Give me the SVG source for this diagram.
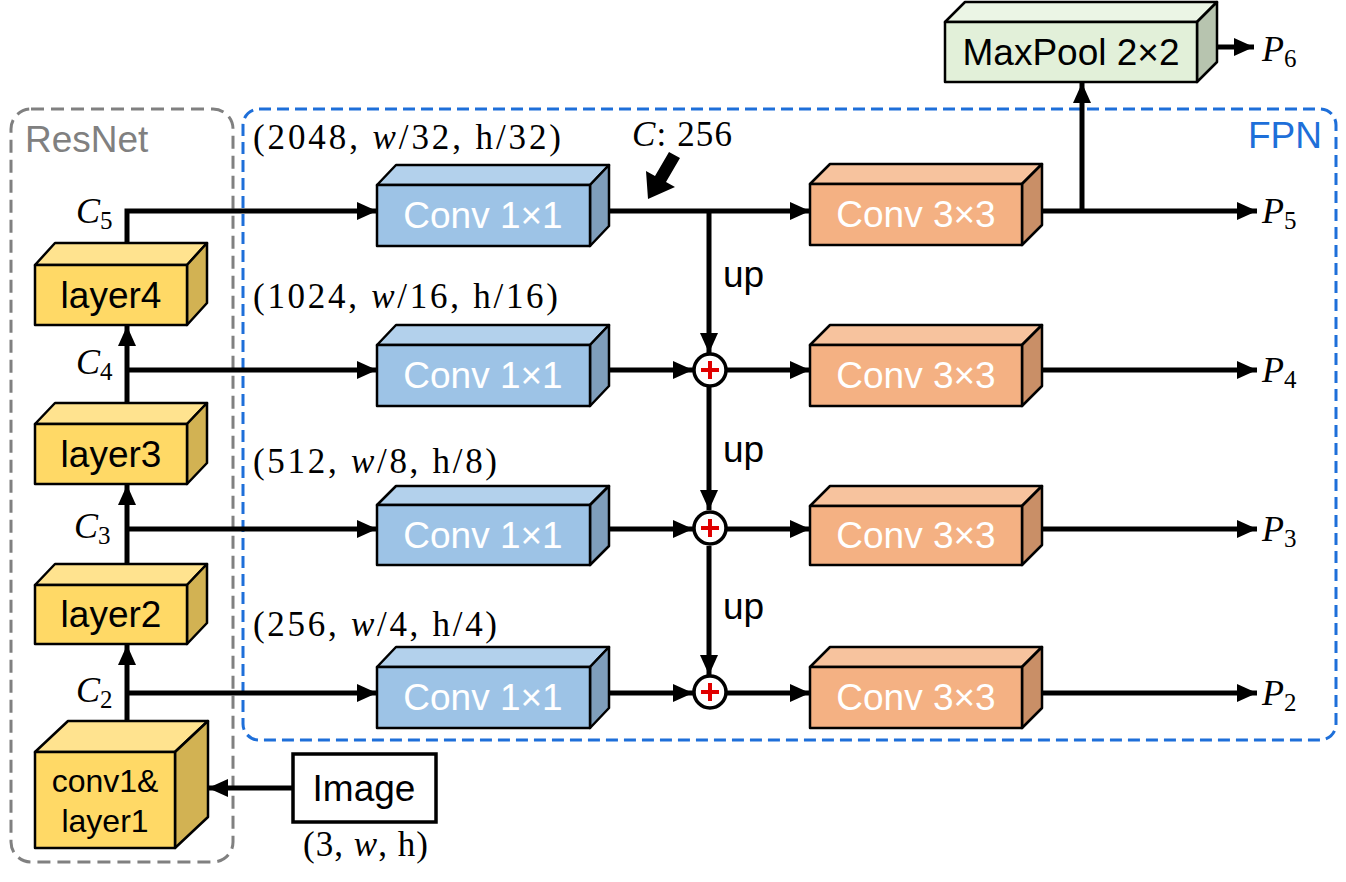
<svg xmlns="http://www.w3.org/2000/svg" width="1346" height="882" viewBox="0 0 1346 882">
<defs>
<marker id="ah" markerUnits="userSpaceOnUse" markerWidth="20" markerHeight="18" refX="20" refY="9" orient="auto">
<path d="M0,0 L20,9 L0,18 z" fill="#000"/>
</marker>
<style>
.cb{stroke:#000;stroke-width:2.5;stroke-linejoin:round}
.yf{fill:#FFD966}.yt{fill:#FFE38F}.ys{fill:#D2B253}
.bf{fill:#9DC3E6}.bt{fill:#B3D1EC}.bs{fill:#7F9EBB}
.of{fill:#F4B183}.ot{fill:#F7C39E}.os{fill:#C98F67}
.gf{fill:#E2F0D9}.gt{fill:#EBF5E5}.gs{fill:#B7C4AF}
.sans{font-family:"Liberation Sans",Arial,sans-serif;font-size:37px}
.wt{fill:#fff;text-anchor:middle}
.bk{fill:#000;text-anchor:middle}
.math{font-family:"Liberation Serif","Times New Roman",serif;font-size:35px;fill:#000}
.lbl{font-size:36px}
.it{font-style:italic}
.sub{font-size:25px}
.ln{fill:none;stroke:#000;stroke-width:5}
.ar{marker-end:url(#ah)}
</style>
</defs>
<rect width="1346" height="882" fill="#fff"/>

<!-- containers -->
<g id="resnet-group">
<rect x="11" y="109" width="222" height="753" rx="20" fill="none" stroke="#808080" stroke-width="3" stroke-dasharray="13 7"/>
<text x="25" y="152" class="sans" fill="#808080">ResNet</text>
</g>
<g id="fpn-group">
<rect x="243" y="109" width="1093" height="631" rx="16" fill="none" stroke="#1E6FD9" stroke-width="3" stroke-dasharray="12 6"/>
<text x="1322" y="148" class="sans" fill="#1E6FD9" text-anchor="end">FPN</text>
</g>

<!-- connectors -->
<g id="connectors">
<path class="ln ar" d="M127,243 V211 H377"/>
<path class="ln ar" d="M127,403 V326"/>
<path class="ln ar" d="M127,370 H377"/>
<path class="ln ar" d="M127,564 V485"/>
<path class="ln ar" d="M127,529 H377"/>
<path class="ln ar" d="M127,721 V645"/>
<path class="ln ar" d="M127,693 H377"/>
<path class="ln ar" d="M292,788 H208"/>
<path class="ln ar" d="M609,211 H810"/>
<path class="ln ar" d="M709,211 V353"/>
<path class="ln ar" d="M609,370 H693"/>
<path class="ln ar" d="M727,370 H810"/>
<path class="ln ar" d="M709,387 V510"/>
<path class="ln ar" d="M609,529 H693"/>
<path class="ln ar" d="M727,529 H810"/>
<path class="ln ar" d="M709,546 V675"/>
<path class="ln ar" d="M609,693 H693"/>
<path class="ln ar" d="M727,693 H810"/>
<path class="ln ar" d="M1042,211 H1257"/>
<path class="ln ar" d="M1042,370 H1257"/>
<path class="ln ar" d="M1042,529 H1257"/>
<path class="ln ar" d="M1042,693 H1257"/>
<path class="ln ar" d="M1082,211 V83"/>
<path class="ln ar" d="M1217,47 H1254"/>
<polygon points="648,199 675,187 666,182 680,158 669,152 655,176 646,171" fill="#000"/>
<text x="723" y="287" class="sans" fill="#000">up</text>
<text x="723" y="462" class="sans" fill="#000">up</text>
<text x="723" y="619" class="sans" fill="#000">up</text>
</g>

<!-- ResNet layers -->
<g id="layer4">
<polygon class="cb yt" points="35,265 55,243 207,243 187,265"/>
<polygon class="cb ys" points="187,265 207,243 207,303 187,325"/>
<rect class="cb yf" x="35" y="265" width="152" height="60"/>
<text x="111" y="308" class="sans bk">layer4</text>
</g>
<g id="layer3">
<polygon class="cb yt" points="35,424 55,403 207,403 187,424"/>
<polygon class="cb ys" points="187,424 207,403 207,463 187,484"/>
<rect class="cb yf" x="35" y="424" width="152" height="60"/>
<text x="111" y="467" class="sans bk">layer3</text>
</g>
<g id="layer2">
<polygon class="cb yt" points="35,585 55,564 207,564 187,585"/>
<polygon class="cb ys" points="187,585 207,564 207,623 187,644"/>
<rect class="cb yf" x="35" y="585" width="152" height="59"/>
<text x="111" y="627" class="sans bk">layer2</text>
</g>
<g id="conv1-layer1">
<polygon class="cb yt" points="35,752 68,721 208,721 175,752"/>
<polygon class="cb ys" points="175,752 208,721 208,817 175,848"/>
<rect class="cb yf" x="35" y="752" width="140" height="96"/>
<text x="105" y="792" class="sans bk" style="font-size:32px">conv1&amp;</text>
<text x="105" y="832" class="sans bk" style="font-size:32px">layer1</text>
</g>

<!-- C labels -->
<g id="c-labels">
<text x="76" y="223" class="math lbl"><tspan class="it">C</tspan><tspan class="sub" dy="6">5</tspan></text>
<text x="76" y="374" class="math lbl"><tspan class="it">C</tspan><tspan class="sub" dy="6">4</tspan></text>
<text x="74" y="538" class="math lbl"><tspan class="it">C</tspan><tspan class="sub" dy="6">3</tspan></text>
<text x="76" y="702" class="math lbl"><tspan class="it">C</tspan><tspan class="sub" dy="6">2</tspan></text>
</g>

<!-- Image -->
<g id="image">
<rect x="293" y="754" width="143" height="68" fill="#fff" stroke="#000" stroke-width="3.5"/>
<text x="364" y="801" class="sans bk">Image</text>
<text x="303" y="856" class="math" textLength="125" lengthAdjust="spacing">(3, <tspan class="it">w</tspan>, h)</text>
</g>

<!-- Dimension labels -->
<g id="dims">
<text x="253" y="149" class="math" textLength="308" lengthAdjust="spacing">(2048, <tspan class="it">w</tspan>/32, h/32)</text>
<text x="253" y="308" class="math" textLength="305" lengthAdjust="spacing">(1024, <tspan class="it">w</tspan>/16, h/16)</text>
<text x="253" y="473" class="math" textLength="244" lengthAdjust="spacing">(512, <tspan class="it">w</tspan>/8, h/8)</text>
<text x="253" y="636" class="math" textLength="244" lengthAdjust="spacing">(256, <tspan class="it">w</tspan>/4, h/4)</text>
<text x="632" y="146" class="math" textLength="100" lengthAdjust="spacing"><tspan class="it">C</tspan>: 256</text>
</g>

<!-- Conv 1x1 -->
<g id="conv1x1-5">
<polygon class="cb bt" points="377,185 396,165 609,165 590,185"/>
<polygon class="cb bs" points="590,185 609,165 609,226 590,246"/>
<rect class="cb bf" x="377" y="185" width="213" height="61"/>
<text x="483" y="228" class="sans wt">Conv 1×1</text>
</g>
<g id="conv1x1-4">
<polygon class="cb bt" points="377,345 396,325 609,325 590,345"/>
<polygon class="cb bs" points="590,345 609,325 609,386 590,406"/>
<rect class="cb bf" x="377" y="345" width="213" height="61"/>
<text x="483" y="388" class="sans wt">Conv 1×1</text>
</g>
<g id="conv1x1-3">
<polygon class="cb bt" points="377,505 396,486 609,486 590,505"/>
<polygon class="cb bs" points="590,505 609,486 609,546 590,565"/>
<rect class="cb bf" x="377" y="505" width="213" height="60"/>
<text x="483" y="548" class="sans wt">Conv 1×1</text>
</g>
<g id="conv1x1-2">
<polygon class="cb bt" points="377,667 396,647 609,647 590,667"/>
<polygon class="cb bs" points="590,667 609,647 609,708 590,728"/>
<rect class="cb bf" x="377" y="667" width="213" height="61"/>
<text x="483" y="710" class="sans wt">Conv 1×1</text>
</g>

<!-- add nodes -->
<g id="add-4">
<circle cx="710" cy="370" r="16" fill="#fff" stroke="#000" stroke-width="3.5"/>
<path d="M701,370 H719 M710,361 V379" stroke="#E00000" stroke-width="4"/>
</g>
<g id="add-3">
<circle cx="710" cy="528" r="16" fill="#fff" stroke="#000" stroke-width="3.5"/>
<path d="M701,528 H719 M710,519 V537" stroke="#E00000" stroke-width="4"/>
</g>
<g id="add-2">
<circle cx="710" cy="692" r="16" fill="#fff" stroke="#000" stroke-width="3.5"/>
<path d="M701,692 H719 M710,683 V701" stroke="#E00000" stroke-width="4"/>
</g>

<!-- Conv 3x3 -->
<g id="conv3x3-5">
<polygon class="cb ot" points="810,184 830,164 1042,164 1022,184"/>
<polygon class="cb os" points="1022,184 1042,164 1042,225 1022,245"/>
<rect class="cb of" x="810" y="184" width="212" height="61"/>
<text x="916" y="227" class="sans wt">Conv 3×3</text>
</g>
<g id="conv3x3-4">
<polygon class="cb ot" points="810,345 830,325 1042,325 1022,345"/>
<polygon class="cb os" points="1022,345 1042,325 1042,386 1022,406"/>
<rect class="cb of" x="810" y="345" width="212" height="61"/>
<text x="916" y="388" class="sans wt">Conv 3×3</text>
</g>
<g id="conv3x3-3">
<polygon class="cb ot" points="810,506 830,486 1042,486 1022,506"/>
<polygon class="cb os" points="1022,506 1042,486 1042,545 1022,565"/>
<rect class="cb of" x="810" y="506" width="212" height="59"/>
<text x="916" y="548" class="sans wt">Conv 3×3</text>
</g>
<g id="conv3x3-2">
<polygon class="cb ot" points="810,667 830,647 1042,647 1022,667"/>
<polygon class="cb os" points="1022,667 1042,647 1042,708 1022,728"/>
<rect class="cb of" x="810" y="667" width="212" height="61"/>
<text x="916" y="710" class="sans wt">Conv 3×3</text>
</g>

<!-- MaxPool -->
<g id="maxpool">
<polygon class="cb gt" points="945,22 965,2 1217,2 1197,22"/>
<polygon class="cb gs" points="1197,22 1217,2 1217,62 1197,82"/>
<rect class="cb gf" x="945" y="22" width="252" height="60"/>
<text x="1071" y="65" class="sans bk">MaxPool 2×2</text>
</g>

<!-- P labels -->
<g id="p-labels">
<text x="1262" y="61" class="math lbl"><tspan class="it">P</tspan><tspan class="sub" dy="6">6</tspan></text>
<text x="1262" y="223" class="math lbl"><tspan class="it">P</tspan><tspan class="sub" dy="6">5</tspan></text>
<text x="1262" y="382" class="math lbl"><tspan class="it">P</tspan><tspan class="sub" dy="6">4</tspan></text>
<text x="1262" y="541" class="math lbl"><tspan class="it">P</tspan><tspan class="sub" dy="6">3</tspan></text>
<text x="1262" y="705" class="math lbl"><tspan class="it">P</tspan><tspan class="sub" dy="6">2</tspan></text>
</g>
</svg>
